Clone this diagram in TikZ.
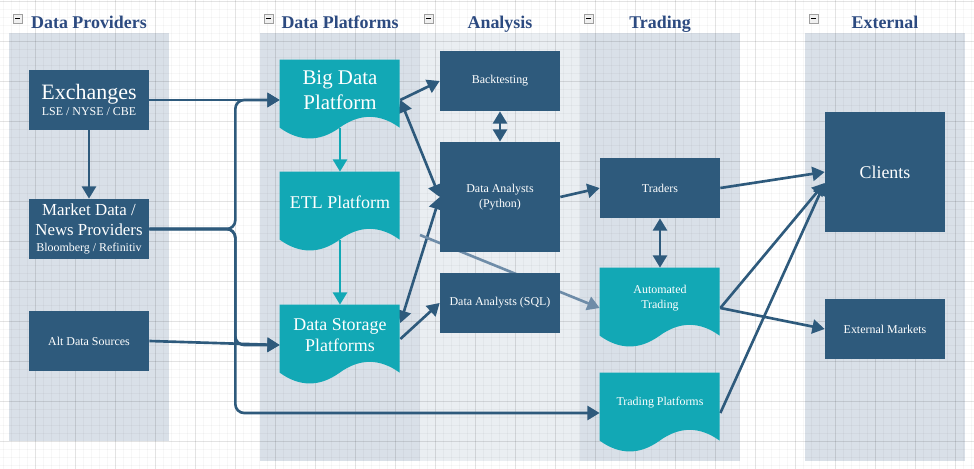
\documentclass[tikz,border=0pt]{standalone}
\usepackage{fontspec}
\setmainfont{Liberation Serif}
\usepackage{xcolor}
\usetikzlibrary{arrows.meta,calc}
\definecolor{navy}{RGB}{46,90,124}
\definecolor{tealbox}{RGB}{18,168,181}
\definecolor{lanegray}{RGB}{217,224,232}
\definecolor{lanelight}{RGB}{234,238,242}
\definecolor{titleblue}{RGB}{44,74,128}
\definecolor{fadeline}{RGB}{110,140,168}
\pgfdeclarelayer{bg}
\pgfdeclarelayer{edges}
\pgfdeclarelayer{docs}
\pgfsetlayers{bg,edges,docs,main}

% wavy document shape behind a 120x80 node
\newcommand{\docwave}[1]{%
  \fill[tealbox, shift={(#1.north west)}] (0,0) -- (120,0) -- (120,68)
    .. controls (100,53.6) and (80,53.6) .. (60,68)
    .. controls (40,82.4) and (20,82.4) .. (0,68) -- cycle;}

\tikzset{
  darkbox/.style={fill=navy, text=white, minimum width=2.4cm, minimum height=1.2cm, inner sep=1pt, align=center, font=\fontsize{6.8}{8.5}\selectfont},
  docbox/.style={minimum width=2.4cm, minimum height=1.6cm, inner sep=0pt},
  doctext/.style={text=white, align=center, yshift=0.2cm, font=\fontsize{6.8}{8.5}\selectfont},
  flow/.style={draw=navy, line width=1.5pt, -{Triangle[length=7pt,width=8pt]}},
  twoway/.style={flow, {Triangle[length=7pt,width=8pt]}-{Triangle[length=7pt,width=8pt]}},
  tealflow/.style={flow, draw=tealbox},
  fadeflow/.style={flow, draw=fadeline},
  lanetitle/.style={text=titleblue, font=\bfseries\fontsize{10.2}{12}\selectfont, anchor=base},
  minusbox/.style={fill=gray!12, draw=gray!75, line width=0.5pt},
  gridminor/.style={draw=black, opacity=0.03, line width=0.3pt},
  gridmajor/.style={draw=black, opacity=0.08, line width=0.4pt}
}

\begin{document}
\begin{tikzpicture}[x=0.02cm, y=-0.02cm, line cap=round, line join=round]
\useasboundingbox (0,0) rectangle (974,469);

\begin{pgfonlayer}{bg}
\fill[white] (0,0) rectangle (974,469);
% swimlanes
\fill[lanegray] (9,33) rectangle (169,441);
\fill[lanegray] (260,33) rectangle (420,461);
\fill[lanelight] (420,33) rectangle (580,461);
\fill[lanegray] (580,33) rectangle (740,461);
\fill[lanegray] (805,33) rectangle (965,461);
% grid
\foreach \k in {0,...,121} \draw[gridminor] ({3.7+8*\k},0) -- ({3.7+8*\k},469);
\foreach \k in {0,...,58} \draw[gridminor] (0,{1.7+8*\k}) -- (974,{1.7+8*\k});
\foreach \k in {0,...,23} \draw[gridmajor] ({35.7+40*\k},0) -- ({35.7+40*\k},469);
\foreach \k in {0,...,11} \draw[gridmajor] (0,{1.7+40*\k}) -- (974,{1.7+40*\k});
% lane headers
\foreach \lx/\cx/\name in {9/89/Data Providers, 260/340/Data Platforms, 420/500/Analysis, 580/660/Trading, 805/885/External}{
  \draw[minusbox] ({\lx+4},14) rectangle ({\lx+13},23);
  \draw[line width=0.6pt] ({\lx+6},18.5) -- ({\lx+11},18.5);
  \node[lanetitle] (head\cx) at (\cx,28.3) {\name};
}
\end{pgfonlayer}

% data providers
\node[darkbox, font=\fontsize{12.5}{9.4}\selectfont] (exch) at (89,100) {Exchanges\\{\fontsize{6.8}{8}\selectfont LSE / NYSE / CBE}};
\node[darkbox, font=\fontsize{9.6}{11.3}\selectfont] (mkt) at (89,229) {Market Data /\\News Providers\\[-2.2pt]{\fontsize{6.8}{8}\selectfont Bloomberg / Refinitiv}};
\node[darkbox] (alt) at (89,341) {Alt Data Sources};

% data platforms
\node[docbox, label={[doctext, font=\fontsize{11.9}{14.2}\selectfont]center:{Big Data\\Platform}}] (bigdata) at (340,100) {};
\node[docbox, label={[doctext, font=\fontsize{10.2}{12}\selectfont]center:{ETL Platform}}] (etl) at (340,212) {};
\node[docbox, label={[doctext, font=\fontsize{10.2}{11.7}\selectfont]center:{Data Storage\\Platforms}}] (storage) at (340,345) {};

% analysis
\node[darkbox] (backtest) at (500,81) {Backtesting};
\node[darkbox, minimum height=2.2cm] (python) at (500,197) {Data Analysts\\(Python)};
\node[darkbox] (sql) at (500,303) {Data Analysts (SQL)};

% trading
\node[darkbox] (traders) at (660,188) {Traders};
\node[docbox, label={[doctext]center:{Automated\\Trading}}] (auto) at (660,308) {};
\node[docbox, label={[doctext]center:{Trading Platforms}}] (tplat) at (660,413) {};

% external
\node[darkbox, minimum height=2.4cm, font=\fontsize{10.2}{12}\selectfont] (clients) at (885,172) {Clients};
\node[darkbox] (extmkt) at (885,329) {External Markets};

\begin{pgfonlayer}{docs}
\foreach \d in {bigdata,etl,storage,auto,tplat} \docwave{\d};
\end{pgfonlayer}

\begin{pgfonlayer}{edges}
\draw[flow] (exch.east) -- (bigdata.west);
\draw[flow] (exch.south) -- (mkt.north);
\draw[flow, rounded corners=5pt] (mkt.east) -- ++(86,0) |- (bigdata.west);
\draw[flow, rounded corners=5pt] (mkt.east) -- ++(86,0) |- (storage.west);
\draw[flow, rounded corners=5pt] (mkt.east) -- ++(86,0) |- (tplat.west);
\draw[flow] (alt.east) -- (storage.west);
\draw[tealflow] ($(bigdata.south)+(0,-12)$) -- (etl.north);
\draw[tealflow] ($(etl.south)+(0,-12)$) -- (storage.north);
\draw[flow] (bigdata.east) -- (backtest.west);
\draw[twoway] (bigdata.east) -- (python.west);
\draw[twoway] ($(storage.east)+(0,-22)$) -- (python.west);
\draw[flow] ($(storage.east)+(0,-6)$) -- (sql.west);
\draw[twoway] (backtest.south) -- (python.north);
\draw[flow] (python.east) -- (traders.west);
\coordinate (fadestart) at (420,235);
\draw[fadeflow] (fadestart) -- (auto.west);
\draw[twoway] (traders.south) -- (auto.north);
\draw[flow] (traders.east) -- (clients.west);
\draw[flow] (auto.east) -- ($(clients.west)+(0,11)$);
\draw[flow] (tplat.east) -- ($(clients.west)+(0,11)$);
\draw[flow] (auto.east) -- (extmkt.west);
\end{pgfonlayer}
\end{tikzpicture}
\end{document}
